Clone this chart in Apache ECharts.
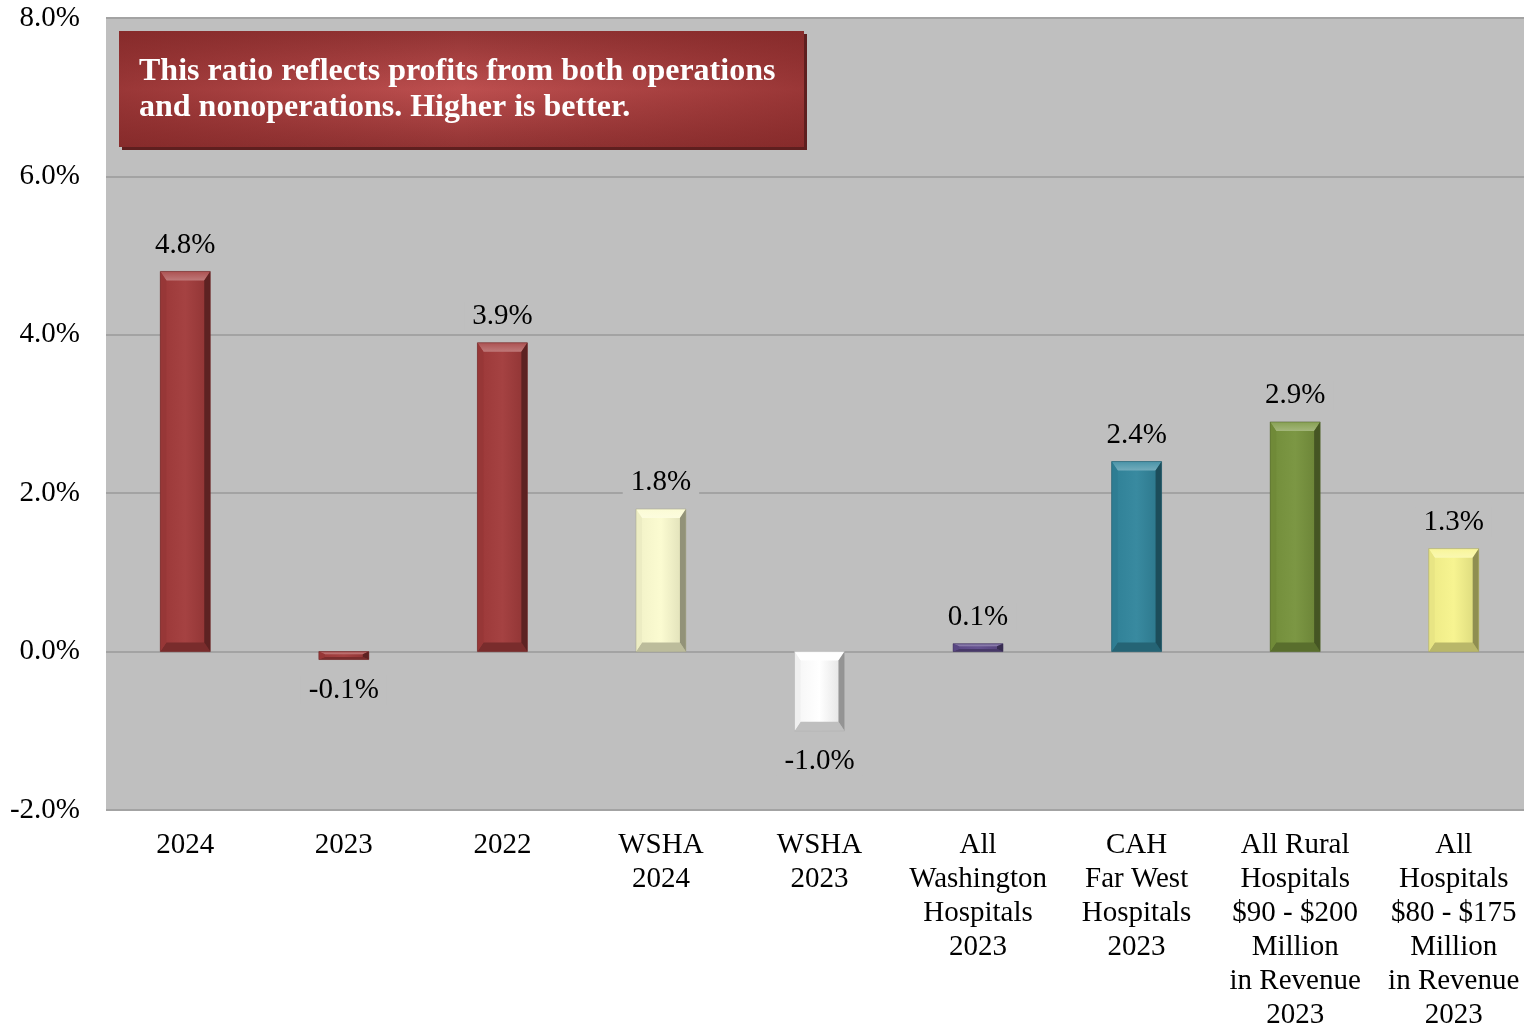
<!DOCTYPE html>
<html>
<head>
<meta charset="utf-8">
<script src="https://cdn.jsdelivr.net/npm/echarts@6/dist/echarts.min.js"></script>
<style>
  html, body { margin: 0; padding: 0; background: #ffffff; }
  #chart { width: 1524px; height: 1026px; }
</style>
</head>
<body>
<div id="chart"></div>
<script>
// Total margin (%) by comparison group
const categories = [
  '2024', '2023', '2022', 'WSHA\n2024', 'WSHA\n2023',
  'All\nWashington\nHospitals\n2023',
  'CAH\nFar West\nHospitals\n2023',
  'All Rural\nHospitals\n$90 - $200\nMillion\nin Revenue\n2023',
  'All\nHospitals\n$80 - $175\nMillion\nin Revenue\n2023'
];
const values = [4.8, -0.1, 3.9, 1.8, -1.0, 0.1, 2.4, 2.9, 1.3];
const barColors = ['#a13a3a', '#a13a3a', '#a13a3a', '#fbfbcf', '#ffffff', '#5f4b8b', '#31859c', '#77933c', '#f7f48c'];
const yTicks = { min: -2, max: 8, interval: 2 };

const FONT = '"Liberation Serif", "Times New Roman", serif';
const PLOT_BG = '#bfbfbf';

function shade(hex, amt) {
  // amt > 0 lightens toward white, amt < 0 darkens toward black
  const n = parseInt(hex.slice(1), 16);
  let r = (n >> 16) & 255, g = (n >> 8) & 255, b = n & 255;
  const f = c => amt >= 0 ? Math.round(c + (255 - c) * amt) : Math.round(c * (1 + amt));
  return 'rgb(' + f(r) + ',' + f(g) + ',' + f(b) + ')';
}

const chart = echarts.init(document.getElementById('chart'), null, { renderer: 'canvas' });

function renderBevelBar(params, api) {
  const i = api.value(0);
  const v = api.value(1);
  const base = api.coord([i, 0]);
  const end = api.coord([i, v]);
  const w = api.size([1, 0])[0] * 0.315;
  const x = base[0] - w / 2;
  const y = Math.min(base[1], end[1]);
  const h = Math.abs(end[1] - base[1]);
  const bt = Math.min(9, h / 3);
  const bs = Math.min(6, w / 4);
  const c = barColors[i];
  const children = [];
  // face
  children.push({
    type: 'rect',
    shape: { x: x, y: y, width: w, height: h },
    style: {
      fill: new echarts.graphic.LinearGradient(0, 0, 1, 0, [
        { offset: 0, color: shade(c, -0.04) },
        { offset: 0.5, color: shade(c, 0.04) },
        { offset: 1, color: shade(c, -0.12) }
      ])
    }
  });
  // bevels
  children.push({
    type: 'polygon',
    shape: { points: [[x, y], [x + w, y], [x + w - bs, y + bt], [x + bs, y + bt]] },
    style: {
      fill: new echarts.graphic.LinearGradient(0, 0, 0, 1, [
        { offset: 0, color: shade(c, 0.12) },
        { offset: 1, color: shade(c, 0.32) }
      ])
    }
  });
  children.push({
    type: 'polygon',
    shape: { points: [[x, y + h], [x + w, y + h], [x + w - bs, y + h - bt], [x + bs, y + h - bt]] },
    style: { fill: shade(c, -0.25) }
  });
  children.push({
    type: 'polygon',
    shape: { points: [[x, y], [x + bs, y + bt], [x + bs, y + h - bt], [x, y + h]] },
    style: { fill: shade(c, -0.06) }
  });
  children.push({
    type: 'polygon',
    shape: { points: [[x + w, y], [x + w - bs, y + bt], [x + w - bs, y + h - bt], [x + w, y + h]] },
    style: { fill: shade(c, -0.42) }
  });
  children.push({
    type: 'rect',
    shape: { x: x, y: y, width: w, height: h },
    style: { fill: 'none', stroke: shade(c, -0.35), lineWidth: 1, opacity: 0.5 }
  });
  // value label
  const label = v.toFixed(1) + '%';
  children.push({
    type: 'text',
    style: {
      text: label,
      x: base[0],
      y: v >= 0 ? y - 12 : y + h + 16,
      align: 'center',
      verticalAlign: v >= 0 ? 'bottom' : 'top',
      font: '29px ' + FONT,
      fill: '#000000',
      backgroundColor: PLOT_BG,
      padding: [0, 8]
    }
  });
  return { type: 'group', children: children };
}

chart.setOption({
  animation: false,
  backgroundColor: '#ffffff',
  grid: {
    left: 106, width: 1427, top: 18, bottom: 216,
    outerBoundsMode: 'none',
    containLabel: false,
    show: true, backgroundColor: PLOT_BG, borderWidth: 0
  },
  xAxis: {
    type: 'category',
    data: categories,
    axisLine: { show: false },
    axisTick: { show: false },
    axisLabel: {
      interval: 0,
      margin: 18,
      fontFamily: FONT,
      fontSize: 29,
      lineHeight: 34,
      color: '#000000',
      verticalAlign: 'top'
    }
  },
  yAxis: {
    type: 'value',
    min: yTicks.min,
    max: yTicks.max,
    interval: yTicks.interval,
    axisLine: { show: false },
    axisTick: { show: false },
    splitLine: { lineStyle: { color: '#a3a3a3', width: 2 } },
    axisLabel: {
      margin: 26,
      fontFamily: FONT,
      fontSize: 29,
      color: '#000000',
      formatter: v => v.toFixed(1) + '%'
    }
  },
  series: [{
    type: 'custom',
    renderItem: renderBevelBar,
    data: values.map((v, i) => [i, v]),
    z: 3
  }],
  graphic: [
    {
      type: 'rect',
      shape: { x: 122, y: 34, width: 685, height: 116 },
      style: { fill: '#5e1f1f' },
      z: 10
    },
    {
      type: 'rect',
      shape: { x: 119, y: 31, width: 685, height: 116 },
      style: {
        fill: new echarts.graphic.LinearGradient(0, 0, 0, 1, [
          { offset: 0, color: '#923434' },
          { offset: 0.5, color: '#bd4f4f' },
          { offset: 1, color: '#923434' }
        ])
      },
      z: 11
    },
    {
      type: 'rect',
      shape: { x: 119, y: 31, width: 685, height: 116 },
      style: {
        fill: new echarts.graphic.LinearGradient(0, 0, 1, 0, [
          { offset: 0, color: 'rgba(125,35,35,0.55)' },
          { offset: 0.5, color: 'rgba(125,35,35,0)' },
          { offset: 1, color: 'rgba(125,35,35,0.55)' }
        ])
      },
      z: 11
    },
    {
      type: 'text',
      left: 139,
      top: 54,
      style: {
        text: 'This ratio reflects profits from both operations\nand nonoperations. Higher is better.',
        font: 'bold 32px ' + FONT,
        lineHeight: 36,
        fill: '#ffffff'
      },
      z: 12
    }
  ]
});
</script>
</body>
</html>
